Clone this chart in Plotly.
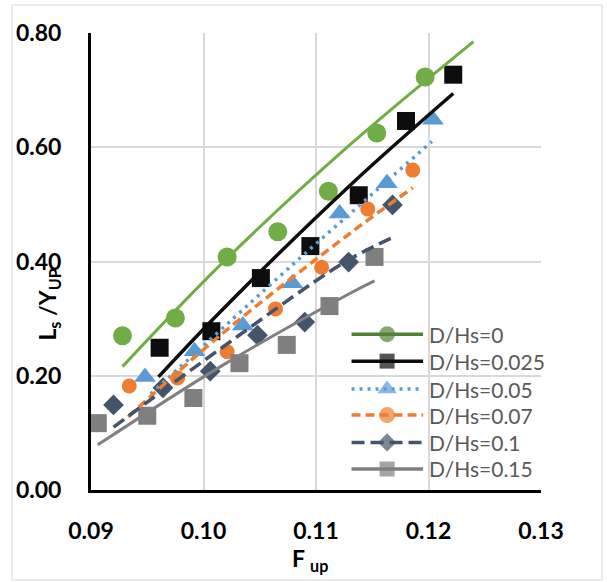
import plotly.graph_objects as go

# ---------------- data ----------------
series_names = ["D/Hs=0", "D/Hs=0.025", "D/Hs=0.05", "D/Hs=0.07", "D/Hs=0.1", "D/Hs=0.15"]

fup_0 = [0.0928, 0.0975, 0.1021, 0.1066, 0.1111, 0.1154, 0.1197]
ls_0 = [0.270, 0.301, 0.408, 0.452, 0.523, 0.625, 0.723]
fup_1 = [0.0961, 0.1007, 0.1051, 0.1095, 0.1138, 0.1180, 0.1222]
ls_1 = [0.249, 0.278, 0.371, 0.427, 0.516, 0.646, 0.727]
fup_2 = [0.0948, 0.0992, 0.1035, 0.1079, 0.1121, 0.1163, 0.1204]
ls_2 = [0.198, 0.243, 0.288, 0.362, 0.484, 0.537, 0.648]
fup_3 = [0.0934, 0.0977, 0.1021, 0.1064, 0.1105, 0.1146, 0.1186]
ls_3 = [0.182, 0.196, 0.242, 0.317, 0.390, 0.492, 0.560]
fup_4 = [0.0920, 0.0964, 0.1006, 0.1048, 0.1090, 0.1129, 0.1168]
ls_4 = [0.149, 0.179, 0.208, 0.271, 0.294, 0.399, 0.499]
fup_5 = [0.0906, 0.0950, 0.0991, 0.1032, 0.1074, 0.1112, 0.1152]
ls_5 = [0.117, 0.130, 0.161, 0.222, 0.254, 0.322, 0.408]

# trendlines (points read along each drawn trendline)
trend_x_0 = [0.0928, 0.1015, 0.1130, 0.1240]
trend_y_0 = [0.216, 0.394, 0.604, 0.785]
trend_x_1 = [0.0960, 0.1015, 0.1129, 0.1222]
trend_y_1 = [0.198, 0.312, 0.531, 0.694]
trend_x_2 = [0.0953, 0.1079, 0.1203]
trend_y_2 = [0.168, 0.394, 0.610]
trend_x_3 = [0.0933, 0.1015, 0.1130, 0.1186]
trend_y_3 = [0.128, 0.271, 0.449, 0.529]
trend_x_4 = [0.0920, 0.1024, 0.1124, 0.1168]
trend_y_4 = [0.110, 0.260, 0.397, 0.442]
trend_x_5 = [0.0906, 0.1015, 0.1130, 0.1152]
trend_y_5 = [0.079, 0.216, 0.344, 0.366]

x_ticks = [0.09, 0.10, 0.11, 0.12, 0.13]
y_ticks = [0.00, 0.20, 0.40, 0.60, 0.80]

# ---------------- styles ----------------
pts_x = [fup_0, fup_1, fup_2, fup_3, fup_4, fup_5]
pts_y = [ls_0, ls_1, ls_2, ls_3, ls_4, ls_5]
tr_x = [trend_x_0, trend_x_1, trend_x_2, trend_x_3, trend_x_4, trend_x_5]
tr_y = [trend_y_0, trend_y_1, trend_y_2, trend_y_3, trend_y_4, trend_y_5]

marker_colors = ["#70AD47", "#0D0D0D", "#5B9BD5", "#ED7D31", "#44546A", "#7F7F7F"]
legend_colors = ["#548235", "#0D0D0D", "#5B9BD5", "#ED7D31", "#44546A", "#7F7F7F"]
line_colors = ["#70AD47", "#0D0D0D", "#5B9BD5", "#ED7D31", "#44546A", "#808080"]
symbols = ["circle", "square", "triangle-up", "circle", "diamond", "square"]
sizes = [19, 18, 19, 15, 16, 18]
leg_sizes = [16, 15, 17, 16, 14, 15]
dashes = ["solid", "solid", "3px,5px", "9px,5px", "13px,6px", "solid"]
widths = [3, 3.5, 3.5, 3.5, 3.5, 3]

FONT = "Lato"

fig = go.Figure()

# markers first
for i in range(6):
    fig.add_trace(go.Scatter(
        x=pts_x[i], y=pts_y[i], mode="markers", showlegend=False,
        marker=dict(symbol=symbols[i], size=sizes[i], color=marker_colors[i],
                    line=dict(width=0)),
        name=series_names[i]))

# trendlines on top
for i in range(6):
    fig.add_trace(go.Scatter(
        x=tr_x[i], y=tr_y[i], mode="lines", showlegend=False,
        line=dict(color=line_colors[i], width=widths[i], dash=dashes[i], shape="spline"),
        hoverinfo="skip"))

# custom legend on an overlay axis (fractions of the plot area)
leg_rows = [0.341, 0.282, 0.221, 0.164, 0.104, 0.046]
leg_x0, leg_xm, leg_x1, leg_tx = 0.579, 0.658, 0.738, 0.746
for i in range(6):
    fig.add_trace(go.Scatter(
        x=[leg_x0, leg_xm, leg_x1], y=[leg_rows[i]] * 3, xaxis="x2", yaxis="y2",
        mode="lines+markers", showlegend=False, hoverinfo="skip",
        line=dict(color=legend_colors[i], width=3.5, dash=dashes[i]),
        marker=dict(symbol=symbols[i], size=[0, leg_sizes[i], 0], color=legend_colors[i],
                    line=dict(width=0))))
    fig.add_annotation(x=leg_tx, y=leg_rows[i], xref="paper", yref="paper",
                       text=series_names[i], showarrow=False, xanchor="left", yanchor="middle",
                       font=dict(family=FONT, size=21, color="#595959"))

# axis titles
fig.add_annotation(x=-0.094, y=0.405, xref="paper", yref="paper", textangle=-90,
                   text="L<sub>s</sub> /Y<sub>UP</sub>", showarrow=False,
                   xanchor="center", yanchor="middle",
                   font=dict(family=FONT, size=23, color="#000000", weight="bold"))
fig.add_annotation(x=0.487, y=-0.153, xref="paper", yref="paper",
                   text="F <sub>up</sub>", showarrow=False,
                   xanchor="center", yanchor="middle",
                   font=dict(family=FONT, size=23, color="#000000", weight="bold"))

# chart border
fig.add_shape(type="rect", xref="paper", yref="paper", x0=-0.1756, x1=1.1356, y0=-0.1969, y1=1.0613,
              line=dict(color="#D9D9D9", width=1), fillcolor="rgba(0,0,0,0)", layer="below")

tickfont = dict(family=FONT, size=23, color="#000000", weight="bold")
fig.update_layout(
    width=607, height=582, autosize=False,
    margin=dict(l=91, r=66, t=33, b=92),
    paper_bgcolor="white", plot_bgcolor="white",
    showlegend=False,
    xaxis=dict(range=[0.09, 0.13], tickvals=x_ticks, ticktext=[f"{v:.2f}" for v in x_ticks],
               showgrid=True, gridcolor="#D9D9D9", gridwidth=1.5,
               showline=True, linecolor="#000000", linewidth=3, zeroline=False,
               ticks="", tickfont=tickfont, ticklabelstandoff=18),
    yaxis=dict(range=[0, 0.8], tickvals=y_ticks, ticktext=[f"{v:.2f}" for v in y_ticks],
               showgrid=True, gridcolor="#D9D9D9", gridwidth=1.5,
               showline=True, linecolor="#000000", linewidth=3, zeroline=False,
               ticks="", tickfont=tickfont, ticklabelstandoff=22),
    xaxis2=dict(range=[0, 1], overlaying="x", anchor="y2", visible=False),
    yaxis2=dict(range=[0, 1], overlaying="y", anchor="x2", visible=False),
)

fig.write_html("out.html")
